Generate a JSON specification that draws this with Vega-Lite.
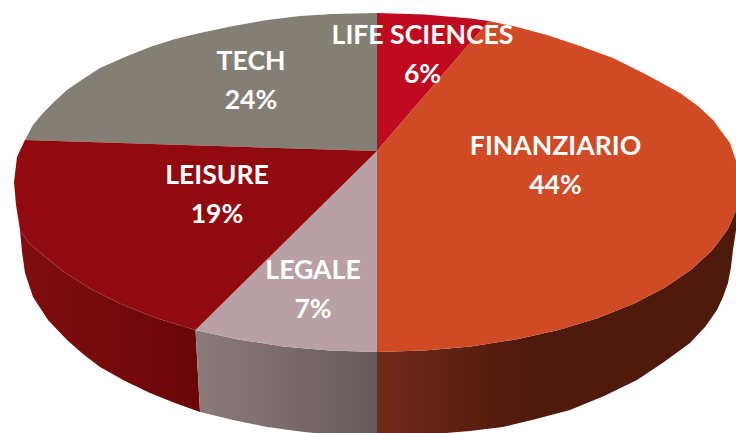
{"$schema":"https://vega.github.io/schema/vega-lite/v6.json","width":736,"height":433,"padding":0,"autosize":"none","background":"white","view":{"stroke":null},"projection":{"type":"identity","scale":1,"translate":[0,0]},"layer":[
{"data":{"values":[{"type":"Feature","properties":{"name":"LEISURE side"},"geometry":{"type":"Polygon","coordinates":[[[20,230],[29,243],[43,255],[62.6,271],[89,288],[120.3,303.7],[156,318],[195.5,330],[200,412],[175,403],[150,393],[125,381],[100,367],[83,354],[67,340],[48,320],[33,297],[25,273],[22,252],[20,230]]]}}]},"mark":{"type":"geoshape","strokeWidth":0,"fill":{"gradient":"linear","x1":0,"y1":0,"x2":1,"y2":0,"stops":[{"offset":0,"color":"#800E10"},{"offset":1,"color":"#6A0508"}]}}},
{"data":{"values":[{"type":"Feature","properties":{"name":"LEGALE side"},"geometry":{"type":"Polygon","coordinates":[[[195.5,330],[238.1,339.4],[283.1,346.4],[329.6,350.6],[377,352],[377,437],[355,436.5],[333,435],[300,431.5],[267,427],[233,420],[200,412],[195.5,330]]]}}]},"mark":{"type":"geoshape","strokeWidth":0,"fill":{"gradient":"linear","x1":0,"y1":0,"x2":1,"y2":0,"stops":[{"offset":0,"color":"#8B7B7B"},{"offset":1,"color":"#675A5C"}]}}},
{"data":{"values":[{"type":"Feature","properties":{"name":"FINANZIARIO side"},"geometry":{"type":"Polygon","coordinates":[[[377,352],[424.4,350.6],[470.9,346.4],[515.9,339.4],[558.5,330],[598,318],[633.7,303.7],[665,287.5],[691.4,269.5],[712.4,250],[727.6,229.7],[736.9,208.5],[740,187],[738,210],[736,230],[733,250],[731,267],[728,283],[723,297],[717,310],[705,327],[690,343],[664,362],[637,380],[604,396],[570,410],[536,419],[503,427],[470,431],[440,433.5],[410,436],[377,437],[377,352]]]}}]},"mark":{"type":"geoshape","strokeWidth":0,"fill":{"gradient":"linear","x1":0,"y1":0,"x2":1,"y2":0,"stops":[{"offset":0,"color":"#72281A"},{"offset":0.4,"color":"#4F1A0C"},{"offset":1,"color":"#4E1A0C"}]}}},
{"data":{"values":[
{"type":"Feature","properties":{"name":"TECH","share":24},"geometry":{"type":"Polygon","coordinates":[[[377,151],[25,140],[33,125],[43,113],[55,101],[67,90],[83,79],[100,68],[125,57],[150,47],[175,39],[200,33],[233,26],[267,20],[300,16],[333,14],[377,13],[377,151]]]}},
{"type":"Feature","properties":{"name":"LIFE SCIENCES","share":6},"geometry":{"type":"Polygon","coordinates":[[[377,151],[377,13],[424.4,14.5],[470.9,18.5],[489,21],[377,151]]]}},
{"type":"Feature","properties":{"name":"FINANZIARIO","share":44},"geometry":{"type":"Polygon","coordinates":[[[377,151],[489,21],[513,26],[547,35],[580,46],[613,58],[647,75],[680,93],[698,106],[713,120],[730,143],[737,164],[740,187],[736.9,208.5],[727.6,229.7],[712.4,250],[691.4,269.5],[665,287.5],[633.7,303.7],[598,318],[558.5,330],[515.9,339.4],[470.9,346.4],[424.4,350.6],[377,352],[377,151]]]}},
{"type":"Feature","properties":{"name":"LEGALE","share":7},"geometry":{"type":"Polygon","coordinates":[[[377,151],[377,352],[329.6,350.6],[283.1,346.4],[238.1,339.4],[195.5,330],[377,151]]]}},
{"type":"Feature","properties":{"name":"LEISURE","share":19},"geometry":{"type":"Polygon","coordinates":[[[377,151],[195.5,330],[156,318],[120.3,303.7],[89,288],[62.6,271],[43,255],[29,243],[20,230],[16,205],[14,182],[17,157],[25,140],[377,151]]]}}
]},"mark":{"type":"geoshape","strokeWidth":0},"encoding":{"color":{"field":"properties.name","type":"nominal","legend":null,"scale":{"domain":["FINANZIARIO","LEGALE","LEISURE","LIFE SCIENCES","TECH"],"range":["#D04A25","#B8A0A5","#910A10","#C00A20","#837F75"]}}}},
{"data":{"values":[
{"label":"LIFE SCIENCES\n6%","px":422.5,"py":36},
{"label":"FINANZIARIO\n44%","px":555.5,"py":147},
{"label":"TECH\n24%","px":251,"py":62},
{"label":"LEISURE\n19%","px":217,"py":176},
{"label":"LEGALE\n7%","px":313,"py":271}
]},"mark":{"type":"text","font":"Lato","fontWeight":"bold","fontSize":26.6,"color":"white","lineBreak":"\n","lineHeight":39,"align":"center","baseline":"middle"},"encoding":{"longitude":{"field":"px","type":"quantitative"},"latitude":{"field":"py","type":"quantitative"},"text":{"field":"label","type":"nominal"}}}
]}
